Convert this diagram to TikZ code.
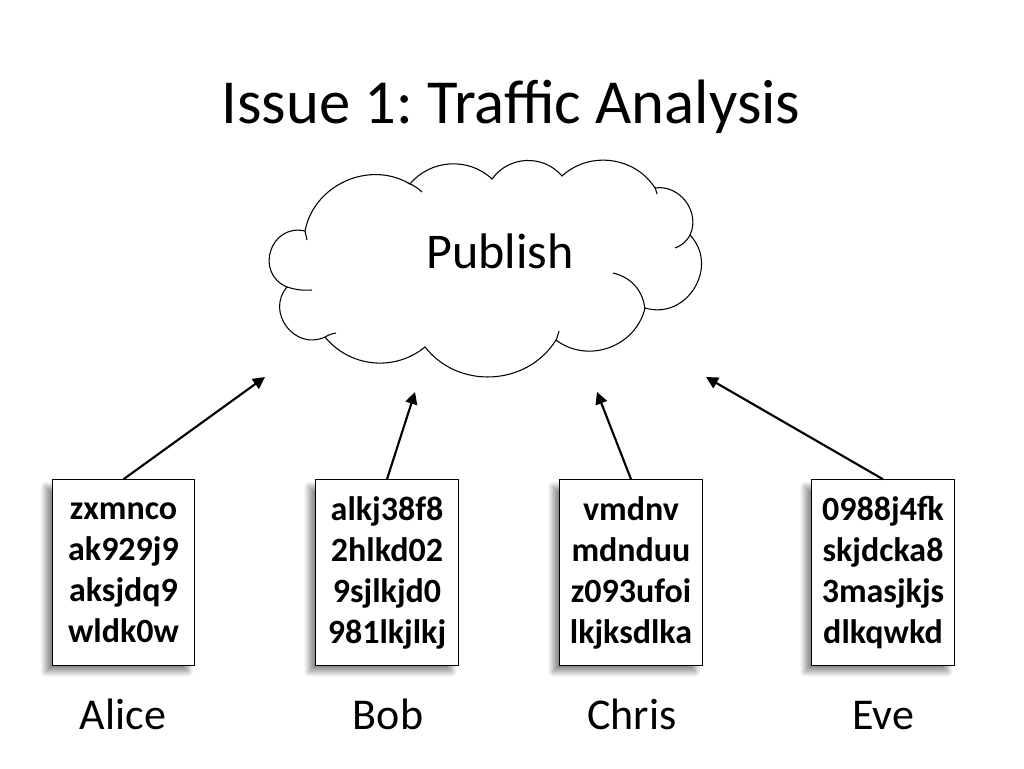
\documentclass[tikz,border=0pt]{standalone}
\usepackage{fontspec}
\setmainfont{Carlito}
\usetikzlibrary{arrows.meta,shadows.blur}
\begin{document}
\frenchspacing
\begin{tikzpicture}[x=0.75pt,y=-0.75pt,
  databox/.style={draw=black, line width=0.9pt, fill=white, minimum width=107pt, minimum height=139pt, inner sep=0pt, align=center,
    font=\fontsize{25.5}{30.75}\selectfont\bfseries,
    blur shadow={shadow xshift=-5pt, shadow yshift=-5pt, shadow blur radius=4pt, shadow blur steps=10, shadow opacity=45}},
  namelabel/.style={font=\fontsize{33}{40}\selectfont, anchor=base},
  sendarrow/.style={line width=1.6pt, -{Triangle[length=9pt,width=9pt]}},
  cloudline/.style={line width=0.8pt}
]
\useasboundingbox (0,0) rectangle (1024,768);

% title
\node[anchor=base, font=\fontsize{47}{56}\selectfont] (title) at (511,123) {Issue 1: Traffic Analysis};

% cloud
\path[draw, fill=white, cloudline]
 (305,231) to[bend left=55, looseness=1.05] (410,184)
 to[bend left=47, looseness=1.0] (492,179)
 to[bend left=52, looseness=1.05] (562,176)
 to[bend left=50, looseness=1.02] (655,188)
 to[bend left=62, looseness=1.1] (690,235)
 to[bend left=75, looseness=1.3] (645,308)
 to[bend left=57, looseness=1.08] (556,340)
 to[bend left=55, looseness=1.06] (425,347)
 to[bend left=45, looseness=1.0] (325,337)
 to[bend left=78, looseness=1.35] (287,287)
 to[bend left=85, looseness=1.55] (305,231) -- cycle;
\draw[cloudline] (613,273) to[bend left=35] (645,309);
\draw[cloudline] (690,235) to[bend left=20] (675,248);
\draw[cloudline] (287,287) to[bend right=10] (312,290);
\draw[cloudline] (325,337) to[bend left=10] (336,333);
\draw[cloudline] (305,231) -- (307,240);
\draw[cloudline] (655,187) -- (657,194);
\draw[cloudline] (556,341) -- (559,331);
\draw[cloudline] (408,183) to[bend left=10] (422,192);
\node[anchor=base, font=\fontsize{37.5}{45}\selectfont] (publish) at (500,268) {Publish};

% boxes
\node[databox] (alice) at (123.5,572.5) {zxmnco\\ak929j9\\aksjdq9\\wldk0w};
\node[databox] (bob) at (387,572.5) {alkj38f8\\2hlkd02\\9sjlkjd0\\981lkjlkj};
\node[databox] (chris) at (631,572.5) {vmdnv\\mdnduu\\z093ufoi\\lkjksdlka};
\node[databox] (eve) at (883,572.5) {0988j4fk\\skjdcka8\\3masjkjs\\dlkqwkd};

% names
\node[namelabel] (alicename) at (123,729) {Alice};
\node[namelabel] (bobname) at (388,729) {Bob};
\node[namelabel] (chrisname) at (632,729) {Chris};
\node[namelabel] (evename) at (883,729) {Eve};

% arrow targets
\coordinate (ta) at (265,377);
\coordinate (tb) at (415,392);
\coordinate (tc) at (597,392);
\coordinate (te) at (706,377);

\draw[sendarrow] (alice.north) -- (ta);
\draw[sendarrow] (bob.north) -- (tb);
\draw[sendarrow] (chris.north) -- (tc);
\draw[sendarrow] (eve.north) -- (te);
\end{tikzpicture}
\end{document}
